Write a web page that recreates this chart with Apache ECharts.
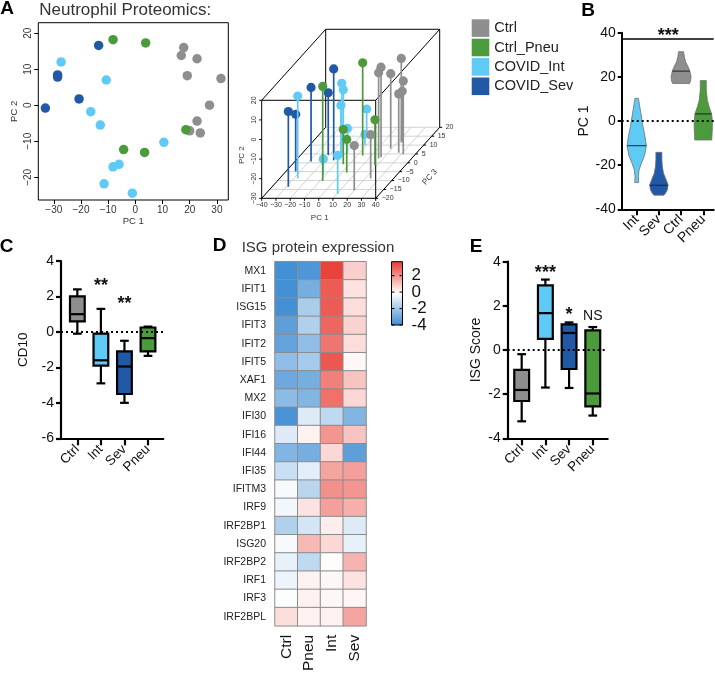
<!DOCTYPE html>
<html>
<head>
<meta charset="utf-8">
<script src="https://cdn.jsdelivr.net/npm/echarts@6.0.0/dist/echarts.min.js"></script>
<style>
html,body{margin:0;padding:0;background:#fff;}
#chart{width:715px;height:674px;}
</style>
</head>
<body>
<div id="chart"></div>
<script>
const FONT = '"Liberation Sans", Arial, Helvetica, sans-serif';
const groups = ['Ctrl', 'Ctrl_Pneu', 'COVID_Int', 'COVID_Sev'];
const groupColors = ['#8e8e8e', '#4b9b3d', '#5fcaf5', '#2259a7'];

// ---- Panel A : PCA ----
const pc1Ctrl = [17.8, 16.9, 22.7, 19.1, 31.5, 27.3, 22.7, 20.0, 23.9];
const pc2Ctrl = [16.0, 13.8, 12.9, 8.2, 7.4, 0, -4.4, -7.1, -7.7];
const pc3Ctrl = [3.1, 2.4, 11.4, 8, 4.8, 5.7, 12, -15.6, -8.8];
const pc1Pneu = [-8.2, 3.8, 18.6, -4.3, 3.4];
const pc2Pneu = [18.2, 17.3, -6.8, -12.3, -13.1];
const pc3Pneu = [-10.2, 4.1, -1.4, -0.8, -5.5];
const pc1Int = [-27.3, -10.7, -16.4, -12.9, 10.5, -6.0, -8.2, -11.5, -1.1];
const pc2Int = [12.0, 7.0, -1.8, -5.5, -10.3, -16.4, -17.1, -21.8, -24.4];
const pc3Int = [-8.8, 3.9, 10, 5.4, -17.5, 15.3, 5.2, -6.9, 9.9];
const pc1Sev = [-13.5, -28.6, -28.6, -20.7, -33.1];
const pc2Sev = [16.6, 8.4, 7.8, 1.75, -0.8];
const pc3Sev = [1.4, -13.5, 0.7, 4.4, -4.9];

const pc1Ticks = [-30, -20, -10, 0, 10, 20, 30];
const pc2Ticks = [-20, -10, 0, 10, 20];
const ax3dPc1Ticks = [-40, -30, -20, -10, 0, 10, 20, 30, 40];
const ax3dPc2Ticks = [-30, -20, -10, 0, 10, 20];
const ax3dPc3Ticks = [-20, -15, -10, -5, 0, 5, 10, 15, 20];

// ---- Panel B : violins of PC1 ----
const vioCats = ['Int', 'Sev', 'Ctrl', 'Pneu'];
const vioIntY = [10.3, 9.5, 3.5, -2.6, -7.1, -11.2, -15.4, -19.2, -22.2, -25.2, -27.9];
const vioIntW = [3.5, 4, 8.3, 12.7, 16.7, 19.3, 16, 9.3, 4.7, 3.3, 4];
const vioSevY = [-14.2, -17.6, -20.7, -23.7, -25.9, -28.2, -29.1, -31.2, -32.7, -33.6];
const vioSevW = [6, 6, 7, 9.3, 13.3, 17.3, 18.3, 17, 13.3, 10];
const vioCtrlY = [31.4, 29.1, 26.8, 24.6, 22.6, 20.1, 18.1, 17.0];
const vioCtrlW = [5, 6.5, 9, 14, 17.5, 20, 19, 17];
const vioPneuY = [18.3, 14, 9.5, 6.5, 3.2, -0.3, -4.1, -7.1, -8.6];
const vioPneuW = [6, 6, 8, 11.7, 16.7, 18.3, 18, 17.3, 17];
const vioMedian = [-11.2, -29.1, 22.6, 3.2];
const vioSigLevel = 37.1;
const vioSigText = ['***'];
const vioSigPos = [[1.42, 40.4]];

// ---- Panel C : CD10 ----
const cdCats = ['Ctrl', 'Int', 'Sev', 'Pneu'];
const cdMin = [-0.1, -2.9, -4.0, -1.35];
const cdQ1 = [0.6, -1.9, -3.5, -1.1];
const cdMed = [1.0, -1.6, -1.95, -0.35];
const cdQ3 = [2.0, -0.1, -1.1, 0.25];
const cdMax = [2.4, 1.3, -0.5, 0.3];
const cdSig = ['', '**', '**', ''];
const cdSigY = [0, 2.82, 1.79, 0];

// ---- Panel D : heatmap ----
const genes = ['MX1','IFIT1','ISG15','IFIT3','IFIT2','IFIT5','XAF1','MX2','IFI30','IFI16','IFI44','IFI35','IFITM3','IRF9','IRF2BP1','ISG20','IRF2BP2','IRF1','IRF3','IRF2BPL'];
const heatCols = ['Ctrl', 'Pneu', 'Int', 'Sev'];
const heatCtrl = [-3.8,-3.8,-3.8,-3.3,-3.2,-2.3,-3.0,-2.4,-3.7,-0.8,-2.6,-1.2,-0.3,-0.4,-1.7,-0.3,-0.6,-0.5,-0.2,0.5];
const heatPneu = [-3.6,-2.8,-1.8,-1.7,-2.3,-1.9,-2.8,-2.6,-0.8,0.1,-2.8,-0.7,-1.5,0.4,-1.0,1.2,-1.4,0.1,0.1,0.1];
const heatInt  = [3.5,3.0,3.0,2.8,2.5,3.1,2.3,2.6,-1.4,1.9,0.6,1.6,2.0,1.7,0.2,0.6,-0.1,0,0,0.1];
const heatSev  = [0.8,0.4,0.5,0.7,0.5,0,1.0,0.6,-2.6,1.0,-3.3,1.7,1.9,1.4,-0.8,-0.6,1.3,0.4,0.05,1.6];
const cbMin = -4, cbMax = 3.7;
const cbTicks = [-4, -2, 0, 2];
const heatColors = ['#3a8ad2', '#ffffff', '#e8382f'];

// ---- Panel E : ISG score ----
const isgCats = ['Ctrl', 'Int', 'Sev', 'Pneu'];
const isgMin = [-3.23, -1.7, -1.72, -2.97];
const isgQ1 = [-2.31, 0.5, -0.86, -2.55];
const isgMed = [-1.81, 1.67, 0.77, -1.97];
const isgQ3 = [-0.9, 2.93, 1.16, 0.89];
const isgMax = [-0.19, 3.19, 1.25, 1.04];
const isgSig = ['', '***', '*', 'NS'];
const isgSigY = [0, 3.68, 1.75, 1.54];

// ================= helpers =================
const minus = v => String(v).replace('-', '\u2212');
const vioColors = [groupColors[2], groupColors[3], groupColors[0], groupColors[1]];
const boxColors = [groupColors[0], groupColors[2], groupColors[3], groupColors[1]];

// oblique projection of scatterplot3d (PC1 horizontal, PC2 vertical, PC3 depth)
const P3MIN = -20, DX = 1.1228, DY = 0.9056;
const proj = (a, b, c) => [a + (c - P3MIN) * DX, b + (c - P3MIN) * DY];

function txt(t, x, y, rot, align, font, fill) {
  return {type: 'text', x: x, y: y, rotation: rot || 0,
    style: {text: t, font: font || ('7px ' + FONT), fill: fill || '#333', align: align || 'center', verticalAlign: 'middle'}};
}

function frameRender(params, api) {
  const P = (a, b, c) => api.coord(proj(a, b, c));
  const ch = [];
  const L = (p, q, style) => ch.push({type: 'line', shape: {x1: p[0], y1: p[1], x2: q[0], y2: q[1]}, style: style});
  const gS = {stroke: '#c8c8c8', lineWidth: 0.8};
  const bS = {stroke: '#000', lineWidth: 1};
  const x0 = -40, x1 = 40, z0 = -30, z1 = 20, y0 = -20, y1 = 20;
  ax3dPc1Ticks.forEach(t => L(P(t, z0, y0), P(t, z0, y1), gS));
  ax3dPc3Ticks.forEach(s => L(P(x0, z0, s), P(x1, z0, s), gS));
  L(P(x0, z1, y1), P(x1, z1, y1), bS);
  L(P(x1, z1, y1), P(x1, z0, y1), bS);
  L(P(x0, z1, y1), P(x0, z0, y1), bS);
  L(P(x0, z1, y0), P(x0, z1, y1), bS);
  L(P(x1, z1, y0), P(x1, z1, y1), bS);
  L(P(x0, z0, y0), P(x0, z0, y1), bS);
  L(P(x1, z0, y0), P(x1, z0, y1), bS);
  L(P(x0, z0, y0), P(x1, z0, y0), bS);
  L(P(x1, z0, y0), P(x1, z1, y0), bS);
  L(P(x1, z1, y0), P(x0, z1, y0), bS);
  L(P(x0, z1, y0), P(x0, z0, y0), bS);
  ax3dPc1Ticks.forEach(t => { const p = P(t, z0, y0); L(p, [p[0], p[1] + 2.5], bS); ch.push(txt(minus(t), p[0], p[1] + 6.5)); });
  ax3dPc2Ticks.forEach(t => { const p = P(x0, t, y0); L(p, [p[0] - 2.5, p[1]], bS); ch.push(txt(minus(t), p[0] - 8, p[1], Math.PI / 2)); });
  ax3dPc3Ticks.forEach(s => { const p = P(x1, z0, s); L(p, [p[0] + 2.5, p[1]], bS); ch.push(txt(minus(s), p[0] + 6, p[1], 0, 'left')); });
  const f8 = '8px ' + FONT;
  let p = P(0, z0, y0); ch.push(txt('PC 1', p[0] + 1, p[1] + 19, 0, 'center', f8));
  p = P(x0, -8, y0); ch.push(txt('PC 2', p[0] - 20, p[1], Math.PI / 2, 'center', f8));
  p = P(x1, z0, -3); ch.push(txt('PC 3', p[0] + 27, p[1] + 9, 48 * Math.PI / 180, 'center', f8));
  return {type: 'group', children: ch};
}

function pointRender(params, api) {
  const a = api.value(0), b = api.value(1), c = api.value(2), g = api.value(3);
  const top = api.coord(proj(a, b, c));
  const bot = api.coord(proj(a, -30, c));
  return {type: 'group', children: [
    {type: 'line', shape: {x1: bot[0], y1: bot[1], x2: top[0], y2: top[1]}, style: {stroke: groupColors[g], lineWidth: 1.7}},
    {type: 'circle', shape: {cx: top[0], cy: top[1], r: 4.6}, style: {fill: groupColors[g]}}
  ]};
}

const vioProfiles = [[vioIntY, vioIntW], [vioSevY, vioSevW], [vioCtrlY, vioCtrlW], [vioPneuY, vioPneuW]];
function vioRender(params, api) {
  const i = api.value(0);
  const ys = vioProfiles[i][0], ws = vioProfiles[i][1];
  const unit = api.size([1, 0])[0];
  const s = unit / 22.2 / 2;
  const cx = api.coord([i, 0])[0];
  const right = ys.map((v, k) => [cx + ws[k] * s, api.coord([i, v])[1]]);
  const left = ys.map((v, k) => [cx - ws[k] * s, api.coord([i, v])[1]]).reverse();
  const med = api.value(1);
  let wm = ws[0];
  for (let k = 0; k < ys.length - 1; k++) {
    if ((ys[k] - med) * (ys[k + 1] - med) <= 0) {
      const f = (med - ys[k]) / ((ys[k + 1] - ys[k]) || 1);
      wm = ws[k] + f * (ws[k + 1] - ws[k]); break;
    }
  }
  const my = api.coord([i, med])[1];
  return {type: 'group', children: [
    {type: 'polygon', shape: {points: right.concat(left)}, style: {fill: vioColors[i], stroke: '#6e6e6e', lineWidth: 0.8}},
    {type: 'line', shape: {x1: cx - wm * s, y1: my, x2: cx + wm * s, y2: my}, style: {stroke: '#222', lineWidth: 1}}
  ]};
}

function boxRender(colors) {
  return function (params, api) {
    const i = api.value(0);
    const unit = api.size([1, 0])[0];
    const hw = 0.313 * unit, cw = 0.185 * unit;
    const x = api.coord([i, 0])[0];
    const Y = k => api.coord([i, api.value(k)])[1];
    const ymin = Y(1), yq1 = Y(2), ymed = Y(3), yq3 = Y(4), ymax = Y(5);
    const ls = {stroke: '#000', lineWidth: 2.2};
    return {type: 'group', children: [
      {type: 'line', shape: {x1: x, y1: ymax, x2: x, y2: yq3}, style: ls},
      {type: 'line', shape: {x1: x, y1: yq1, x2: x, y2: ymin}, style: ls},
      {type: 'line', shape: {x1: x - cw, y1: ymax, x2: x + cw, y2: ymax}, style: ls},
      {type: 'line', shape: {x1: x - cw, y1: ymin, x2: x + cw, y2: ymin}, style: ls},
      {type: 'rect', shape: {x: x - hw, y: yq3, width: 2 * hw, height: yq1 - yq3}, style: {fill: colors[i], stroke: '#000', lineWidth: 2.2}},
      {type: 'line', shape: {x1: x - hw, y1: ymed, x2: x + hw, y2: ymed}, style: ls}
    ]};
  };
}

function sigRender(texts) {
  return function (params, api) {
    const t = texts[params.dataIndex];
    const p = api.coord([api.value(0), api.value(1)]);
    const star = t.indexOf('*') >= 0;
    return {type: 'text', x: p[0], y: p[1] + (star ? 4 : 0),
      style: {text: t, font: (star ? 'bold 18px ' : '14px ') + FONT, fill: '#111', align: 'center', verticalAlign: 'middle'}};
  };
}

function cbRender(params, api) {
  const tl = api.coord([0, cbMax]), br = api.coord([1, cbMin]);
  const ch = [{type: 'rect', shape: {x: tl[0], y: tl[1], width: br[0] - tl[0], height: br[1] - tl[1]},
    style: {fill: new echarts.graphic.LinearGradient(0, 0, 0, 1, [
      {offset: 0, color: heatColors[2]}, {offset: 0.5, color: heatColors[1]}, {offset: 1, color: heatColors[0]}]),
      stroke: '#000', lineWidth: 1}}];
  cbTicks.forEach(t => {
    const y = api.coord([0, t])[1];
    ch.push({type: 'line', shape: {x1: tl[0], y1: y, x2: tl[0] + 3, y2: y}, style: {stroke: '#000', lineWidth: 1}});
    ch.push({type: 'line', shape: {x1: br[0] - 3, y1: y, x2: br[0], y2: y}, style: {stroke: '#000', lineWidth: 1}});
    ch.push(txt(String(t), br[0] + 9, y, 0, 'left', '17px ' + FONT, '#111'));
  });
  return {type: 'group', children: ch};
}

function zeroLineSeries(xi, yi, extra) {
  return {type: 'line', xAxisIndex: xi, yAxisIndex: yi, data: [], z: 1, silent: true,
    markLine: {silent: true, symbol: ['none', 'none'], label: {show: false}, animation: false,
      data: [{yAxis: 0, lineStyle: {type: [2, 3], color: '#000', width: 2}}].concat(extra || [])}};
}

const lbl = (size, extra) => Object.assign({fontSize: size, color: '#111', fontFamily: FONT}, extra || {});
const blackLine = w => ({show: true, onZero: false, lineStyle: {color: '#000', width: w}});

// ================= option =================
const pcaSets = [[pc1Ctrl, pc2Ctrl, pc3Ctrl], [pc1Pneu, pc2Pneu, pc3Pneu], [pc1Int, pc2Int, pc3Int], [pc1Sev, pc2Sev, pc3Sev]];
const pts3d = [];
pcaSets.forEach((g, gi) => g[0].forEach((v, k) => pts3d.push([v, g[1][k], g[2][k], gi])));
pts3d.sort((a, b) => b[2] - a[2]);

const heatData = [];
[heatCtrl, heatPneu, heatInt, heatSev].forEach((col, ci) => col.forEach((v, ri) => heatData.push([ci, ri, v])));

const series = [];
pcaSets.forEach((g, gi) => series.push({
  name: groups[gi], type: 'scatter', xAxisIndex: 0, yAxisIndex: 0, symbolSize: 9.5,
  itemStyle: {color: groupColors[gi], opacity: 1}, data: g[0].map((v, k) => [v, g[1][k]])
}));
series.push({type: 'custom', xAxisIndex: 1, yAxisIndex: 1, renderItem: frameRender, data: [[0, 0]], silent: true});
series.push({type: 'custom', xAxisIndex: 1, yAxisIndex: 1, renderItem: pointRender, data: pts3d, silent: true, z: 3});
series.push(zeroLineSeries(2, 2, [{yAxis: vioSigLevel, lineStyle: {type: 'solid', color: '#000', width: 1.5}}]));
series.push({type: 'custom', xAxisIndex: 2, yAxisIndex: 2, renderItem: vioRender, z: 3,
  data: vioCats.map((c, i) => [i, vioMedian[i]])});
series.push({type: 'custom', xAxisIndex: 2, yAxisIndex: 2, renderItem: sigRender(vioSigText), data: vioSigPos, z: 4});
series.push(zeroLineSeries(3, 3));
series.push({type: 'custom', xAxisIndex: 3, yAxisIndex: 3, renderItem: boxRender(boxColors), z: 3,
  encode: {x: 0, y: [1, 2, 3, 4, 5]},
  data: cdCats.map((c, i) => [i, cdMin[i], cdQ1[i], cdMed[i], cdQ3[i], cdMax[i]])});
series.push({type: 'custom', xAxisIndex: 3, yAxisIndex: 3, renderItem: sigRender(cdSig.filter(t => t)), z: 4,
  data: cdCats.map((c, i) => [i, cdSigY[i]]).filter((d, i) => cdSig[i])});
series.push({type: 'heatmap', xAxisIndex: 4, yAxisIndex: 4, data: heatData,
  itemStyle: {borderColor: '#8c8c8c', borderWidth: 1}, emphasis: {disabled: true}});
series.push({type: 'custom', xAxisIndex: 5, yAxisIndex: 5, renderItem: cbRender, data: [[0, 0]], silent: true});
series.push(zeroLineSeries(6, 6));
series.push({type: 'custom', xAxisIndex: 6, yAxisIndex: 6, renderItem: boxRender(boxColors), z: 3,
  encode: {x: 0, y: [1, 2, 3, 4, 5]},
  data: isgCats.map((c, i) => [i, isgMin[i], isgQ1[i], isgMed[i], isgQ3[i], isgMax[i]])});
series.push({type: 'custom', xAxisIndex: 6, yAxisIndex: 6, renderItem: sigRender(isgSig.filter(t => t)), z: 4,
  data: isgCats.map((c, i) => [i, isgSigY[i]]).filter((d, i) => isgSig[i])});
const heatIdx = series.findIndex(s => s.type === 'heatmap');

const hidden = {show: false};
const catIdx = [0, 1, 2, 3];

const option = {
  animation: false,
  backgroundColor: '#fff',
  textStyle: {fontFamily: FONT},
  legend: {
    data: groups, orient: 'vertical', left: 471.7, top: 19.3, padding: 0,
    itemWidth: 17.6, itemHeight: 17.6, itemGap: 1.8, icon: 'rect', selectedMode: false,
    textStyle: {fontSize: 14.5, color: '#222', fontFamily: FONT}
  },
  visualMap: [{type: 'continuous', show: false, seriesIndex: heatIdx, dimension: 2, min: cbMin, max: cbMax,
    inRange: {color: heatColors}}],
  grid: [
    {left: 38.3, top: 22.7, width: 190, height: 177.3, show: true, borderColor: '#000', borderWidth: 1},
    {left: 261.7, top: 29.3, width: 178, height: 169},
    {left: 621.7, top: 32.7, width: 92, height: 176.6},
    {left: 61, top: 261, width: 102.3, height: 177.3},
    {left: 275, top: 261.7, width: 91, height: 365},
    {left: 391.5, top: 261.7, width: 11, height: 63.3},
    {left: 507.7, top: 261.7, width: 100, height: 176.6}
  ],
  xAxis: [
    {gridIndex: 0, type: 'value', min: -35.7, max: 34.2, splitLine: hidden, axisLine: {show: false, onZero: false},
      axisTick: {show: true, length: 4, customValues: pc1Ticks, lineStyle: {color: '#000'}},
      axisLabel: {customValues: pc1Ticks, formatter: minus, fontSize: 10, margin: 5, color: '#333'},
      name: 'PC 1', nameLocation: 'middle', nameGap: 16, nameTextStyle: {fontSize: 9.5, color: '#333'}},
    {gridIndex: 1, type: 'value', min: -40, max: 84.91, show: false},
    {gridIndex: 2, type: 'value', min: -0.676, max: 3.47, splitLine: hidden, axisLine: blackLine(2),
      axisTick: {length: 6, customValues: catIdx, lineStyle: {color: '#000', width: 2}},
      axisLabel: lbl(14, {customValues: catIdx, formatter: v => vioCats[v], rotate: 45, margin: 8})},
    {gridIndex: 3, type: 'value', min: -0.694, max: 3.65, splitLine: hidden, axisLine: blackLine(2.2),
      axisTick: {length: 7, customValues: catIdx, lineStyle: {color: '#000', width: 2.2}},
      axisLabel: lbl(13.5, {customValues: catIdx, formatter: v => cdCats[v], rotate: 45, margin: 9})},
    {gridIndex: 4, type: 'category', data: heatCols, axisLine: {show: false}, axisTick: {show: false},
      axisLabel: lbl(15.5, {rotate: 90, margin: 9})},
    {gridIndex: 5, type: 'value', min: 0, max: 1, show: false},
    {gridIndex: 6, type: 'value', min: -0.59, max: 3.63, splitLine: hidden, axisLine: blackLine(2.2),
      axisTick: {length: 7, customValues: catIdx, lineStyle: {color: '#000', width: 2.2}},
      axisLabel: lbl(13.5, {customValues: catIdx, formatter: v => isgCats[v], rotate: 45, margin: 9})}
  ],
  yAxis: [
    {gridIndex: 0, type: 'value', min: -26.3, max: 22.9, splitLine: hidden, axisLine: {show: false, onZero: false},
      axisTick: {show: true, length: 4, customValues: pc2Ticks, lineStyle: {color: '#000'}},
      axisLabel: {customValues: pc2Ticks, formatter: minus, fontSize: 10, margin: 5, rotate: 90, color: '#333'},
      name: 'PC 2', nameLocation: 'middle', nameGap: 18.5, nameTextStyle: {fontSize: 9.5, color: '#333'}},
    {gridIndex: 1, type: 'value', min: -30, max: 56.22, show: false},
    {gridIndex: 2, type: 'value', min: -40, max: 40, interval: 20, splitLine: hidden, axisLine: blackLine(2),
      axisTick: {length: 4, lineStyle: {color: '#000', width: 2}}, axisLabel: lbl(14, {margin: 6}),
      name: 'PC 1', nameLocation: 'middle', nameGap: 28, nameTextStyle: {fontSize: 14, color: '#111'}},
    {gridIndex: 3, type: 'value', min: -6, max: 4, interval: 2, splitLine: hidden, axisLine: blackLine(2.2),
      axisTick: {length: 5, lineStyle: {color: '#000', width: 2.2}}, axisLabel: lbl(14, {margin: 7}),
      name: 'CD10', nameLocation: 'middle', nameGap: 31, nameTextStyle: {fontSize: 13.5, color: '#111'}},
    {gridIndex: 4, type: 'category', data: genes, inverse: true, axisLine: {show: false}, axisTick: {show: false},
      axisLabel: lbl(10.5, {margin: 9, color: '#222'})},
    {gridIndex: 5, type: 'value', min: cbMin, max: cbMax, show: false},
    {gridIndex: 6, type: 'value', min: -4, max: 4, interval: 2, splitLine: hidden, axisLine: blackLine(2.2),
      axisTick: {length: 5, lineStyle: {color: '#000', width: 2.2}}, axisLabel: lbl(14, {margin: 7}),
      name: 'ISG Score', nameLocation: 'middle', nameGap: 25, nameTextStyle: {fontSize: 14, color: '#111'}}
  ],
  graphic: [
    {type: 'text', x: 7, y: 8.5, style: {text: 'A', font: 'bold 19px ' + FONT, fill: '#000', align: 'center', verticalAlign: 'middle'}},
    {type: 'text', x: 39.3, y: 10, style: {text: 'Neutrophil Proteomics:', font: '17px ' + FONT, fill: '#333', align: 'left', verticalAlign: 'middle'}},
    {type: 'text', x: 588, y: 10.5, style: {text: 'B', font: 'bold 19px ' + FONT, fill: '#000', align: 'center', verticalAlign: 'middle'}},
    {type: 'text', x: 6.5, y: 246.5, style: {text: 'C', font: 'bold 19px ' + FONT, fill: '#000', align: 'center', verticalAlign: 'middle'}},
    {type: 'text', x: 219.5, y: 246, style: {text: 'D', font: 'bold 19px ' + FONT, fill: '#000', align: 'center', verticalAlign: 'middle'}},
    {type: 'text', x: 241.7, y: 248.3, style: {text: 'ISG protein expression', font: '15px ' + FONT, fill: '#333', align: 'left', verticalAlign: 'middle'}},
    {type: 'text', x: 476, y: 246.3, style: {text: 'E', font: 'bold 19px ' + FONT, fill: '#000', align: 'center', verticalAlign: 'middle'}}
  ],
  series: series
};

const chart = echarts.init(document.getElementById('chart'), null, {renderer: 'canvas'});
chart.setOption(option);
</script>
</body>
</html>
